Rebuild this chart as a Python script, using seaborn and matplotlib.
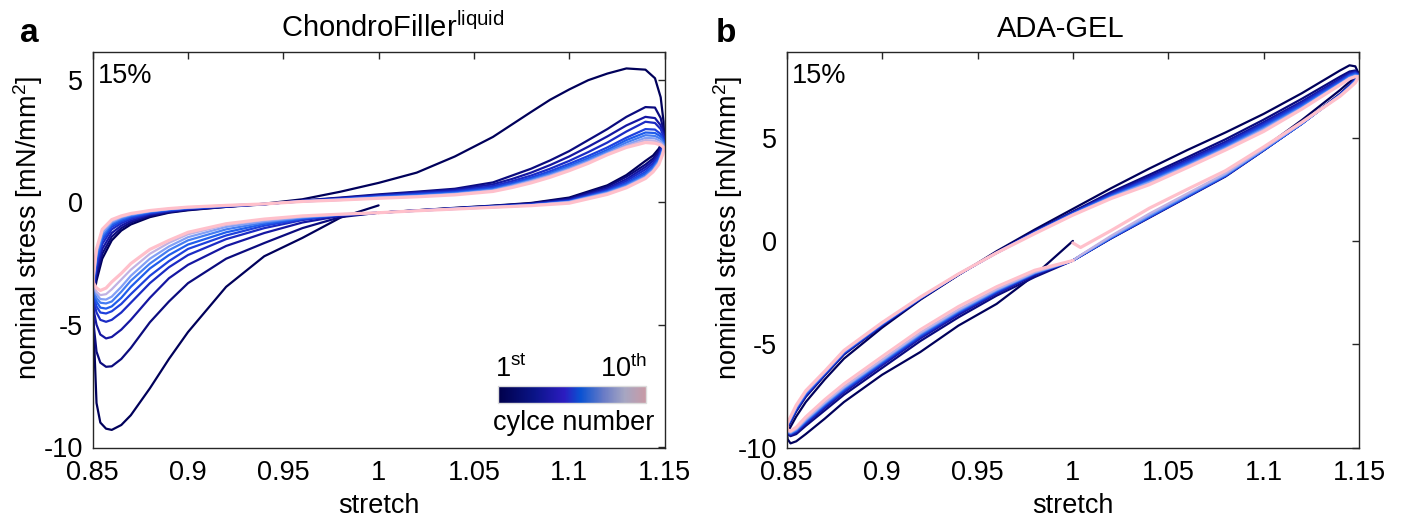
import numpy as np
import pandas as pd
import matplotlib
matplotlib.use("Agg")
import matplotlib.pyplot as plt
from matplotlib.colors import LinearSegmentedColormap, Normalize
from matplotlib.cm import ScalarMappable
import seaborn as sns

# ---------------- data ----------------
CYCLES = list(range(1, 11))

# Panel a (ChondroFiller liquid): each cycle = compression 1.0->0.85, extension 0.85->1.15, return 1.15->1.0
A_LL_X = [1.0, 0.98, 0.96, 0.94, 0.92, 0.90, 0.89, 0.88, 0.87, 0.865, 0.86, 0.857, 0.854, 0.852, 0.8505]
A_LL_Y = [
    [-0.12, -0.62, -1.45, -2.2, -3.45, -5.3, -6.4, -7.6, -8.7, -9.1, -9.3, -9.25, -9.0, -8.2, -5.2],
    [-0.42, -0.6, -1.05, -1.66, -2.3, -3.3, -4.05, -4.9, -5.95, -6.4, -6.7, -6.72, -6.55, -6.1, -5.0],
    [-0.42, -0.55, -0.82, -1.25, -1.78, -2.55, -3.1, -3.9, -4.8, -5.2, -5.5, -5.56, -5.4, -5.0, -4.4],
    [-0.42, -0.52, -0.72, -1.05, -1.5, -2.15, -2.65, -3.3, -4.1, -4.5, -4.8, -4.88, -4.8, -4.5, -4.0],
    [-0.42, -0.5, -0.68, -0.95, -1.35, -1.9, -2.4, -3.0, -3.75, -4.15, -4.45, -4.54, -4.5, -4.25, -3.8],
    [-0.42, -0.5, -0.65, -0.88, -1.22, -1.72, -2.15, -2.7, -3.45, -3.9, -4.25, -4.34, -4.3, -4.05, -3.7],
    [-0.42, -0.49, -0.62, -0.82, -1.1, -1.55, -1.95, -2.5, -3.2, -3.65, -4.05, -4.13, -4.1, -3.9, -3.55],
    [-0.42, -0.49, -0.6, -0.77, -1.0, -1.42, -1.8, -2.3, -3.0, -3.45, -3.85, -3.97, -3.95, -3.75, -3.45],
    [-0.42, -0.48, -0.57, -0.72, -0.92, -1.3, -1.65, -2.1, -2.75, -3.15, -3.55, -3.75, -3.79, -3.65, -3.4],
    [-0.42, -0.48, -0.55, -0.68, -0.87, -1.22, -1.55, -1.92, -2.5, -2.9, -3.25, -3.5, -3.6, -3.5, -3.3],
]
A_UP_X = [0.8502, 0.852, 0.855, 0.86, 0.865, 0.87, 0.88, 0.89, 0.9, 0.92, 0.94, 0.96, 0.98, 1.0,
          1.02, 1.04, 1.06, 1.07, 1.08, 1.09, 1.1, 1.11, 1.12, 1.13, 1.14, 1.145, 1.148, 1.1495]
A_UP_Y = [
    [-4.0, -3.2, -2.3, -1.55, -1.15, -0.9, -0.6, -0.42, -0.32, -0.18, -0.05, 0.13, 0.44, 0.8, 1.22, 1.88, 2.68, 3.19, 3.7, 4.2, 4.62, 5.0, 5.27, 5.48, 5.43, 5.08, 4.3, 3.3],
    [-3.8, -3.0, -2.1, -1.4, -1.05, -0.82, -0.55, -0.4, -0.3, -0.18, -0.08, 0.08, 0.2, 0.33, 0.44, 0.56, 0.82, 1.1, 1.38, 1.72, 2.1, 2.55, 3.0, 3.5, 3.9, 3.88, 3.45, 2.95],
    [-3.7, -2.8, -1.9, -1.25, -0.95, -0.75, -0.5, -0.37, -0.28, -0.17, -0.07, 0.07, 0.18, 0.3, 0.41, 0.52, 0.74, 0.96, 1.22, 1.53, 1.88, 2.28, 2.7, 3.15, 3.5, 3.45, 3.15, 2.8],
    [-3.6, -2.6, -1.7, -1.1, -0.85, -0.68, -0.46, -0.34, -0.26, -0.16, -0.07, 0.06, 0.16, 0.27, 0.37, 0.47, 0.67, 0.87, 1.1, 1.38, 1.7, 2.06, 2.45, 2.9, 3.3, 3.25, 3.0, 2.7],
    [-3.5, -2.45, -1.55, -1.0, -0.78, -0.62, -0.43, -0.32, -0.24, -0.15, -0.07, 0.06, 0.14, 0.25, 0.34, 0.43, 0.61, 0.8, 1.02, 1.28, 1.58, 1.9, 2.25, 2.65, 3.0, 2.98, 2.8, 2.55],
    [-3.4, -2.3, -1.45, -0.92, -0.72, -0.57, -0.4, -0.3, -0.23, -0.14, -0.07, 0.05, 0.13, 0.23, 0.31, 0.4, 0.56, 0.75, 0.96, 1.21, 1.5, 1.81, 2.15, 2.55, 2.86, 2.84, 2.7, 2.5],
    [-3.3, -2.15, -1.35, -0.85, -0.66, -0.53, -0.38, -0.28, -0.22, -0.13, -0.06, 0.05, 0.12, 0.21, 0.28, 0.37, 0.53, 0.71, 0.92, 1.16, 1.44, 1.74, 2.08, 2.45, 2.75, 2.72, 2.6, 2.42],
    [-3.25, -2.05, -1.25, -0.8, -0.61, -0.5, -0.36, -0.27, -0.21, -0.13, -0.06, 0.04, 0.11, 0.2, 0.26, 0.35, 0.5, 0.68, 0.88, 1.11, 1.38, 1.68, 2.02, 2.36, 2.64, 2.62, 2.5, 2.36],
    [-3.15, -1.95, -1.15, -0.75, -0.58, -0.47, -0.34, -0.26, -0.2, -0.12, -0.06, 0.04, 0.1, 0.18, 0.24, 0.33, 0.47, 0.65, 0.86, 1.08, 1.34, 1.64, 1.98, 2.3, 2.55, 2.52, 2.42, 2.3],
    [-3.1, -1.9, -1.1, -0.7, -0.55, -0.45, -0.33, -0.25, -0.19, -0.12, -0.06, 0.04, 0.1, 0.17, 0.23, 0.31, 0.45, 0.61, 0.8, 1.03, 1.3, 1.6, 1.95, 2.25, 2.45, 2.42, 2.35, 2.25],
]
A_LR_X = [1.1498, 1.149, 1.147, 1.144, 1.14, 1.13, 1.12, 1.1, 1.08, 1.06, 1.04, 1.02, 1.0]
A_LR_Y = [
    [2.7, 2.5, 2.2, 1.92, 1.7, 1.12, 0.7, 0.2, -0.02, -0.13, -0.22, -0.32, -0.42],
    [2.85, 2.55, 2.1, 1.8, 1.55, 1.05, 0.65, 0.16, -0.04, -0.14, -0.23, -0.32, -0.42],
    [2.7, 2.4, 2.0, 1.7, 1.45, 0.95, 0.58, 0.12, -0.06, -0.15, -0.24, -0.33, -0.42],
    [2.6, 2.3, 1.9, 1.6, 1.35, 0.88, 0.52, 0.09, -0.08, -0.16, -0.24, -0.33, -0.42],
    [2.5, 2.2, 1.82, 1.5, 1.25, 0.8, 0.48, 0.06, -0.09, -0.17, -0.25, -0.33, -0.42],
    [2.45, 2.15, 1.75, 1.45, 1.18, 0.75, 0.45, 0.04, -0.1, -0.18, -0.25, -0.33, -0.42],
    [2.38, 2.1, 1.7, 1.38, 1.1, 0.7, 0.42, 0.03, -0.11, -0.18, -0.26, -0.34, -0.42],
    [2.32, 2.05, 1.65, 1.32, 1.05, 0.66, 0.39, 0.02, -0.12, -0.19, -0.26, -0.34, -0.42],
    [2.26, 2.0, 1.6, 1.28, 1.02, 0.63, 0.37, 0.01, -0.12, -0.2, -0.27, -0.34, -0.42],
    [2.2, 1.95, 1.55, 1.25, 0.98, 0.6, 0.33, -0.03, -0.13, -0.2, -0.27, -0.34, -0.42],
]

# Panel b (ADA-GEL)
B_LL_X = [1.0, 0.98, 0.96, 0.94, 0.92, 0.90, 0.88, 0.87, 0.86, 0.855, 0.852, 0.8505]
B_LL_Y = [
    [0.0, -1.65, -3.05, -4.1, -5.38, -6.48, -7.8, -8.6, -9.35, -9.7, -9.8, -9.6],
    [-0.95, -1.75, -2.65, -3.7, -4.85, -6.15, -7.45, -8.2, -8.95, -9.35, -9.45, -9.35],
    [-0.95, -1.65, -2.55, -3.58, -4.72, -6.02, -7.33, -8.08, -8.85, -9.28, -9.4, -9.3],
    [-0.95, -1.6, -2.5, -3.5, -4.65, -5.95, -7.27, -8.0, -8.8, -9.22, -9.36, -9.28],
    [-0.95, -1.58, -2.46, -3.46, -4.6, -5.9, -7.22, -7.96, -8.76, -9.2, -9.34, -9.27],
    [-0.95, -1.56, -2.43, -3.43, -4.56, -5.87, -7.18, -7.93, -8.73, -9.18, -9.32, -9.26],
    [-0.95, -1.55, -2.4, -3.4, -4.52, -5.83, -7.14, -7.89, -8.7, -9.15, -9.3, -9.25],
    [-0.95, -1.53, -2.37, -3.36, -4.48, -5.79, -7.1, -7.85, -8.66, -9.12, -9.28, -9.23],
    [-0.95, -1.5, -2.33, -3.31, -4.43, -5.74, -7.05, -7.8, -8.62, -9.09, -9.25, -9.2],
    [-0.95, -1.42, -2.22, -3.18, -4.3, -5.6, -6.92, -7.68, -8.52, -9.02, -9.2, -9.15],
]
B_UP_X = [0.8502, 0.855, 0.86, 0.87, 0.88, 0.9, 0.92, 0.94, 0.96, 0.98, 1.0, 1.02, 1.04, 1.06,
          1.08, 1.1, 1.12, 1.14, 1.145, 1.148, 1.1498]
B_UP_Y = [
    [-9.3, -8.5, -7.8, -6.7, -5.7, -4.2, -2.85, -1.65, -0.5, 0.55, 1.55, 2.55, 3.5, 4.4, 5.25, 6.15, 7.15, 8.25, 8.5, 8.45, 8.1],
    [-9.1, -8.25, -7.55, -6.5, -5.5, -4.1, -2.82, -1.64, -0.55, 0.47, 1.42, 2.36, 3.2, 4.05, 4.92, 5.87, 6.88, 7.95, 8.2, 8.25, 8.1],
    [-9.05, -8.2, -7.5, -6.47, -5.47, -4.08, -2.8, -1.63, -0.56, 0.45, 1.39, 2.3, 3.11, 3.95, 4.8, 5.75, 6.75, 7.85, 8.12, 8.2, 8.07],
    [-9.0, -8.16, -7.46, -6.44, -5.44, -4.06, -2.79, -1.63, -0.57, 0.43, 1.36, 2.25, 3.04, 3.87, 4.72, 5.67, 6.67, 7.78, 8.07, 8.16, 8.05],
    [-8.98, -8.12, -7.42, -6.41, -5.41, -4.04, -2.78, -1.62, -0.58, 0.41, 1.34, 2.21, 2.98, 3.8, 4.65, 5.6, 6.6, 7.72, 8.02, 8.12, 8.03],
    [-8.96, -8.09, -7.39, -6.39, -5.39, -4.02, -2.77, -1.62, -0.58, 0.4, 1.32, 2.17, 2.92, 3.74, 4.59, 5.53, 6.54, 7.67, 7.98, 8.08, 8.01],
    [-8.93, -8.06, -7.36, -6.37, -5.37, -4.01, -2.76, -1.61, -0.58, 0.39, 1.3, 2.14, 2.87, 3.68, 4.53, 5.47, 6.49, 7.63, 7.94, 8.04, 8.0],
    [-8.91, -8.03, -7.33, -6.35, -5.35, -3.99, -2.75, -1.61, -0.58, 0.38, 1.28, 2.11, 2.83, 3.63, 4.48, 5.41, 6.44, 7.6, 7.9, 8.0, 7.98],
    [-8.88, -8.0, -7.3, -6.33, -5.33, -3.97, -2.74, -1.6, -0.58, 0.37, 1.27, 2.08, 2.77, 3.59, 4.44, 5.36, 6.41, 7.57, 7.87, 7.97, 7.96],
    [-8.85, -7.95, -7.25, -6.3, -5.3, -3.95, -2.72, -1.6, -0.58, 0.35, 1.25, 2.05, 2.72, 3.55, 4.4, 5.3, 6.38, 7.55, 7.85, 7.95, 7.95],
]
B_LR_X = [1.1499, 1.148, 1.145, 1.14, 1.12, 1.1, 1.08, 1.06, 1.04, 1.02, 1.004, 1.0]
B_LR_Y = [
    [8.1, 7.95, 7.7, 7.3, 5.85, 4.5, 3.22, 2.18, 1.17, 0.15, -0.72, -0.95],
    [8.1, 7.85, 7.55, 7.12, 5.68, 4.38, 3.12, 2.12, 1.12, 0.12, -0.74, -0.95],
    [8.07, 7.82, 7.52, 7.1, 5.68, 4.39, 3.14, 2.14, 1.14, 0.13, -0.73, -0.95],
    [8.05, 7.8, 7.5, 7.08, 5.67, 4.4, 3.15, 2.15, 1.15, 0.14, -0.73, -0.95],
    [8.03, 7.78, 7.48, 7.07, 5.67, 4.4, 3.16, 2.16, 1.16, 0.15, -0.72, -0.95],
    [8.01, 7.76, 7.46, 7.06, 5.68, 4.41, 3.18, 2.18, 1.18, 0.16, -0.72, -0.95],
    [8.0, 7.74, 7.45, 7.05, 5.69, 4.43, 3.2, 2.21, 1.21, 0.18, -0.71, -0.95],
    [7.98, 7.72, 7.44, 7.04, 5.7, 4.45, 3.23, 2.25, 1.25, 0.2, -0.7, -0.95],
    [7.96, 7.7, 7.42, 7.02, 5.72, 4.48, 3.28, 2.3, 1.32, 0.25, -0.69, -0.95],
    [7.95, 7.65, 7.4, 7.0, 5.75, 4.55, 3.4, 2.5, 1.58, 0.5, -0.32, -0.1],
]

X_TICKS = [0.85, 0.9, 0.95, 1.0, 1.05, 1.1, 1.15]
X_TICK_LABELS = ["0.85", "0.9", "0.95", "1", "1.05", "1.1", "1.15"]
Y_TICKS = [-10, -5, 0, 5]
Y_TICK_LABELS = ["-10", "-5", "0", "5"]


def build_frame(llx, lly, upx, upy, lrx, lry):
    rows = []
    for i, c in enumerate(CYCLES):
        xs = llx + upx + lrx
        ys = lly[i] + upy[i] + lry[i]
        for k, (x, y) in enumerate(zip(xs, ys)):
            rows.append((c, k, x, y))
    return pd.DataFrame(rows, columns=["cycle", "order", "stretch", "stress"])


dfA = build_frame(A_LL_X, A_LL_Y, A_UP_X, A_UP_Y, A_LR_X, A_LR_Y)
dfB = build_frame(B_LL_X, B_LL_Y, B_UP_X, B_UP_Y, B_LR_X, B_LR_Y)

# ---------------- style ----------------
sns.set_theme(style="white")
plt.rcParams["font.family"] = ["Liberation Sans", "DejaVu Sans"]
plt.rcParams["mathtext.fontset"] = "custom"
plt.rcParams["mathtext.rm"] = "Liberation Sans"
plt.rcParams["mathtext.it"] = "Liberation Sans:italic"
plt.rcParams["mathtext.bf"] = "Liberation Sans:bold"
plt.rcParams["axes.unicode_minus"] = False
plt.rcParams["axes.edgecolor"] = "#262626"
plt.rcParams["axes.linewidth"] = 1.0
plt.rcParams["text.color"] = "black"
plt.rcParams["axes.labelcolor"] = "black"
plt.rcParams["xtick.color"] = "black"
plt.rcParams["ytick.color"] = "black"

line_cmap = LinearSegmentedColormap.from_list(
    "cyc", ["#00005a", "#14149c", "#1e36d8", "#2068f0", "#8ea6f6", "#ffc0cb"])
colors = [line_cmap(v) for v in np.linspace(0, 1, len(CYCLES))]
cbar_cmap = LinearSegmentedColormap.from_list(
    "cbar", [(0.0, "#00004a"), (0.25, "#0a1488"), (0.45, "#2c1cc0"), (0.56, "#0a52d2"),
             (0.72, "#6a7cc6"), (0.86, "#a6a6c2"), (1.0, "#c89aa6")])

W, H = 1401, 518
fig = plt.figure(figsize=(W / 100, H / 100), dpi=100)
fig.patch.set_facecolor("white")

axA = fig.add_axes([92.7 / W, 1 - 447.5 / H, 571.8 / W, 395.2 / H])
axB = fig.add_axes([786.7 / W, 1 - 447.5 / H, 572.4 / W, 395.2 / H])

FS = 19.5
for ax, df, ylim, ylab_x in ((axA, dfA, (-10.02, 6.14), -0.083), (axB, dfB, (-10.0, 9.13), -0.073)):
    for i, c in enumerate(CYCLES):
        sub = df[df["cycle"] == c]
        sns.lineplot(data=sub, x="stretch", y="stress", sort=False, estimator=None,
                     color=colors[i], linewidth=2.3 if c == 10 else 1.6, ax=ax, legend=False)
    ax.set_xlim(0.85, 1.15)
    ax.set_ylim(*ylim)
    ax.set_xticks(X_TICKS)
    ax.set_xticklabels(X_TICK_LABELS)
    ax.set_yticks(Y_TICKS)
    ax.set_yticklabels(Y_TICK_LABELS)
    ax.tick_params(direction="in", top=True, right=True, length=5, width=1.0,
                   labelsize=FS, colors="#262626", labelcolor="black")
    ax.tick_params(axis="x", pad=9)
    ax.tick_params(axis="y", pad=7)
    ax.set_xlabel("stretch", fontsize=FS, color="black")
    ax.set_ylabel(r"nominal stress [mN/mm$^{\mathrm{2}}$]", fontsize=FS, color="black")
    ax.xaxis.set_label_coords(0.5, -0.115)
    ax.yaxis.set_label_coords(ylab_x, 0.555)
    for s in ax.spines.values():
        s.set_visible(True)
        s.set_color("#262626")
        s.set_linewidth(1.0)
    ax.text(0.009, 0.972, "15%", transform=ax.transAxes, ha="left", va="top",
            fontsize=FS, color="black")

# titles and panel letters
fig.text(393 / W, 1 - 37 / H, r"ChondroFiller$^{\mathrm{liquid}}$", ha="center", va="baseline",
         fontsize=21, color="black")
fig.text(1061 / W, 1 - 37 / H, "ADA-GEL", ha="center", va="baseline", fontsize=21, color="black")
fig.text(20 / W, 1 - 42 / H, "a", ha="left", va="baseline", fontsize=24, fontweight="bold", color="black")
fig.text(716 / W, 1 - 42 / H, "b", ha="left", va="baseline", fontsize=24, fontweight="bold", color="black")

# colour bar for cycle number
cax = fig.add_axes([497.7 / W, 1 - 403.3 / H, 148 / W, 17.3 / H])
sm = ScalarMappable(norm=Normalize(vmin=CYCLES[0], vmax=CYCLES[-1]), cmap=cbar_cmap)
cb = fig.colorbar(sm, cax=cax, orientation="horizontal", ticks=[])
cb.outline.set_edgecolor("#dcdcdc")
cb.outline.set_linewidth(1.0)
fig.text(495 / W, 1 - 376.7 / H, r"1$^{\mathrm{st}}$", ha="left", va="baseline", fontsize=FS, color="black")
fig.text(647 / W, 1 - 376.7 / H, r"10$^{\mathrm{th}}$", ha="right", va="baseline", fontsize=FS, color="black")
fig.text(574 / W, 1 - 430 / H, "cylce number", ha="center", va="baseline", fontsize=FS, color="black")

fig.savefig("out.png", dpi=100, facecolor="white")
